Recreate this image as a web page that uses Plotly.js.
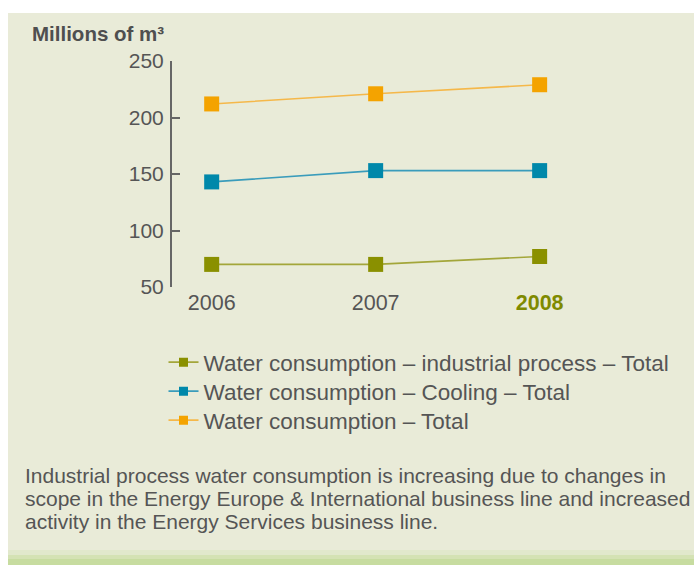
<!DOCTYPE html>
<html>
<head>
<meta charset="utf-8">
<script src="https://cdn.plot.ly/plotly-3.0.1.min.js"></script>
<style>
html,body{margin:0;padding:0;background:#fff;}
#chart{width:694px;height:565px;}
</style>
</head>
<body>
<div id="chart"></div>
<script>
const years = ['2006', '2007', '2008'];
const industrial = [70, 70, 77];
const cooling = [143, 153, 153];
const total = [212, 221, 229];
const seriesNames = [
  'Water consumption \u2013 industrial process \u2013 Total',
  'Water consumption \u2013 Cooling \u2013 Total',
  'Water consumption \u2013 Total'
];
const yTicks = [50, 100, 150, 200, 250];
const unitLabel = 'Millions of m\u00b3';
const footnoteLines = [
  'Industrial process water consumption is increasing due to changes in',
  'scope in the Energy Europe &amp; International business line and increased',
  'activity in the Energy Services business line.'
];

const colors = ['#8a9000', '#0088aa', '#f4a300'];
const lineColors = ['#a3a63a', '#3a9cbb', '#f5b84a'];
const values = [industrial, cooling, total];
const legendIds = ['legend', 'legend2', 'legend3'];
const FONT = '"Liberation Sans", Arial, sans-serif';

const traces = [];
values.forEach((v, i) => {
  traces.push({
    x: years, y: v, type: 'scatter', mode: 'lines+markers',
    line: {color: lineColors[i], width: 1.6},
    marker: {symbol: 'square', size: 15, color: colors[i]},
    showlegend: false, hoverinfo: 'skip', cliponaxis: false
  });
});
values.forEach((v, i) => {
  traces.push({
    x: [null], y: [null], type: 'scatter', mode: 'lines+markers',
    name: seriesNames[i], legend: legendIds[i],
    line: {color: lineColors[i], width: 1.6},
    marker: {symbol: 'square', size: 9, color: colors[i]},
    showlegend: true
  });
});

const W = 694, H = 565;
const L = 172, R = 115, T = 61, B = 278;
const pw = W - L - R, ph = H - T - B;
const px = x => (x - L) / pw;
const py = y => 1 - (y - T) / ph;

const annotations = [
  {xref: 'paper', yref: 'paper', x: px(30), y: py(33.5), xanchor: 'left', yanchor: 'middle',
   text: '<b>' + unitLabel + '</b>', showarrow: false,
   font: {size: 20.5, color: '#4f4f4f', family: FONT}}
];
footnoteLines.forEach((t, i) => {
  annotations.push({
    xref: 'paper', yref: 'paper', x: px(23), y: py(475 + i * 23), xanchor: 'left', yanchor: 'middle',
    text: t, showarrow: false, align: 'left',
    font: {size: 21, color: '#555555', family: FONT}
  });
});

const legendTops = [341, 370, 399];
const mkLegend = top => ({
  x: px(163.5), y: py(top), xanchor: 'left', yanchor: 'top',
  bgcolor: 'rgba(0,0,0,0)',
  font: {size: 22.5, color: '#555555', family: FONT},
  itemwidth: 30
});

const layout = {
  width: W, height: H,
  margin: {l: L, r: R, t: T, b: B, pad: 0},
  paper_bgcolor: '#ffffff',
  plot_bgcolor: 'rgba(0,0,0,0)',
  font: {family: FONT, color: '#555555'},
  xaxis: {
    type: 'category',
    range: [-0.242, 2.24],
    showline: false, showgrid: false, zeroline: false,
    ticks: '',
    tickvals: years,
    ticktext: ['2006', '2007', '<b><span style="color:#7f8a00">2008</span></b>'],
    tickfont: {size: 21.5, color: '#555555', family: FONT},
    fixedrange: true
  },
  yaxis: {
    range: [50, 250],
    tickvals: yTicks,
    showline: true, linecolor: '#666666', linewidth: 2,
    ticks: 'inside', ticklen: 8, tickwidth: 2, tickcolor: '#666666',
    showgrid: false, zeroline: false,
    tickfont: {size: 21, color: '#555555', family: FONT},
    ticklabelstandoff: 2,
    fixedrange: true
  },
  legend: mkLegend(legendTops[0]),
  legend2: mkLegend(legendTops[1]),
  legend3: mkLegend(legendTops[2]),
  shapes: [
    {type: 'rect', xref: 'paper', yref: 'paper', layer: 'below',
     x0: px(8), x1: px(694), y0: py(565), y1: py(13),
     fillcolor: '#e9ebd8', line: {width: 0}},
    {type: 'rect', xref: 'paper', yref: 'paper', layer: 'below',
     x0: px(8), x1: px(694), y0: py(565), y1: py(550),
     fillcolor: '#e1e8cc', line: {width: 0}},
    {type: 'rect', xref: 'paper', yref: 'paper', layer: 'below',
     x0: px(8), x1: px(694), y0: py(565), y1: py(555),
     fillcolor: '#d4e2b4', line: {width: 0}},
    {type: 'rect', xref: 'paper', yref: 'paper', layer: 'below',
     x0: px(8), x1: px(694), y0: py(565), y1: py(559),
     fillcolor: '#c7dca0', line: {width: 0}}
  ],
  annotations: annotations
};

Plotly.newPlot('chart', traces, layout, {displayModeBar: false, staticPlot: true});
</script>
</body>
</html>
